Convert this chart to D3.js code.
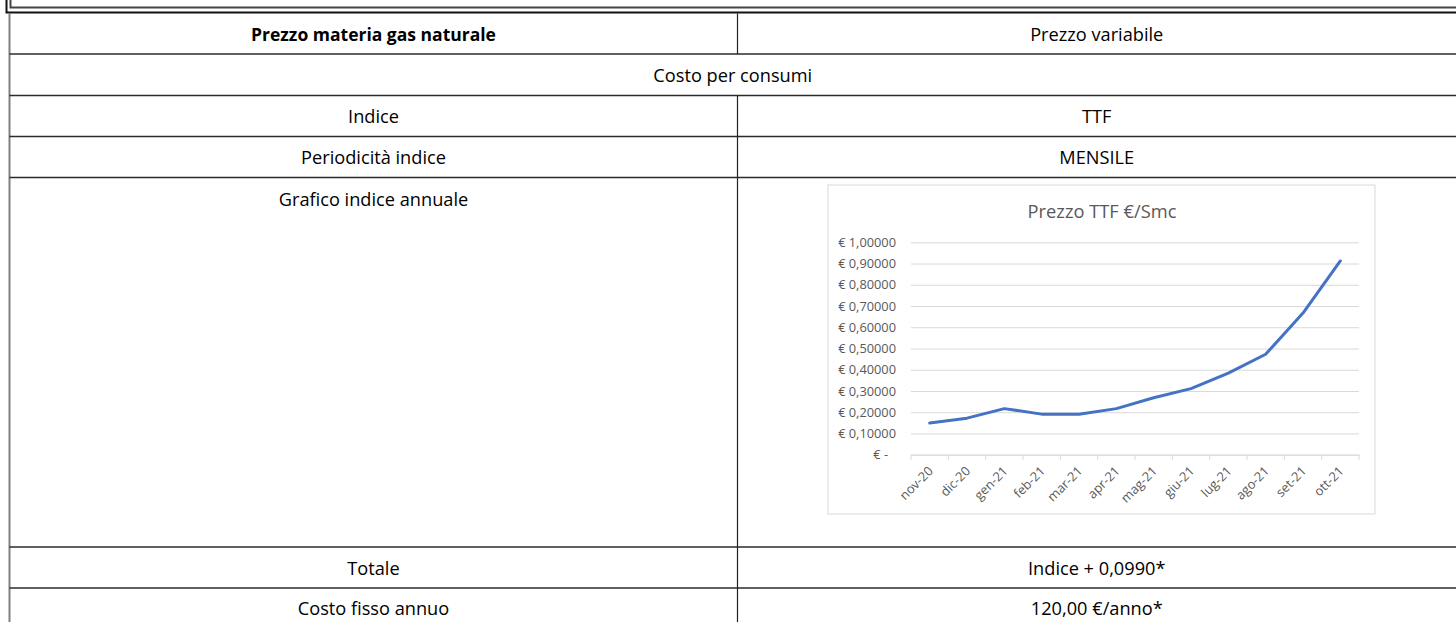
<!DOCTYPE html>
<html>
<head>
<meta charset="utf-8">
<script src="https://cdn.jsdelivr.net/npm/d3@7"></script>
<style>
  body { margin: 0; background: #fff; }
  svg { display: block; }
</style>
</head>
<body>
<script>
// monthly TTF index (€/Smc)
var months = ["nov-20", "dic-20", "gen-21", "feb-21", "mar-21", "apr-21",
              "mag-21", "giu-21", "lug-21", "ago-21", "set-21", "ott-21"];
var prezzoTTF = [0.149, 0.172, 0.217, 0.191, 0.190, 0.217,
                 0.268, 0.311, 0.384, 0.473, 0.667, 0.912];
var yTicks = [0, 0.1, 0.2, 0.3, 0.4, 0.5, 0.6, 0.7, 0.8, 0.9, 1.0];

// table texts
var leftCol = ["Prezzo materia gas naturale", "", "Indice", "Periodicità indice",
               "Grafico indice annuale", "Totale", "Costo fisso annuo"];
var rightCol = ["Prezzo variabile", "", "TTF", "MENSILE", "", "Indice + 0,0990*", "120,00 €/anno*"];
var mergedRow = "Costo per consumi";

var width = 1456, height = 622;
var font = "'Open Sans', 'Noto Sans', sans-serif";

var svg = d3.select("body").append("svg")
  .attr("width", width)
  .attr("height", height);

// double frame at the very top (bottom of a box above)
svg.append("path")
  .attr("d", "M6.5,-5 V12.5 H1460")
  .attr("fill", "none").attr("stroke", "#111").attr("stroke-width", 2);
svg.append("path")
  .attr("d", "M10.5,-5 V7.5 H1460")
  .attr("fill", "none").attr("stroke", "#444").attr("stroke-width", 2);

// table grid
var rowY = [13.5, 54, 95.5, 136.5, 177.5, 547, 588, 640];
var colL = 9.5, colM = 737.5, colR = 1458;

svg.append("line")
  .attr("x1", colL).attr("x2", colL).attr("y1", 13).attr("y2", height)
  .attr("stroke", "#808080").attr("stroke-width", 2);

svg.selectAll(".hrow")
  .data(rowY.slice(1, -1))
  .enter().append("line")
    .attr("x1", colL).attr("x2", colR)
    .attr("y1", function(d) { return d; })
    .attr("y2", function(d) { return d; })
    .attr("stroke", "#2b2b2b").attr("stroke-width", 1.6);

// vertical divider, skipping the merged row
svg.append("line")
  .attr("x1", colM).attr("x2", colM).attr("y1", rowY[0]).attr("y2", rowY[1])
  .attr("stroke", "#222").attr("stroke-width", 1.2);
svg.append("line")
  .attr("x1", colM).attr("x2", colM).attr("y1", rowY[2]).attr("y2", height)
  .attr("stroke", "#222").attr("stroke-width", 1.2);

function cellText(x, y, txt, bold) {
  svg.append("text")
    .attr("x", x).attr("y", y)
    .attr("text-anchor", "middle")
    .attr("dominant-baseline", "central")
    .style("font-family", font)
    .style("font-size", bold ? "17.5px" : "18.2px")
    .style("font-weight", bold ? "bold" : "normal")
    .style("fill", "#000")
    .text(txt);
}

leftCol.forEach(function(t, i) {
  if (!t) return;
  var cy = i === 4 ? rowY[i] + 21 : (rowY[i] + rowY[i + 1]) / 2;
  if (i === 6) cy = rowY[i] + 20;
  cellText((colL + colM) / 2, cy, t, i === 0);
});
rightCol.forEach(function(t, i) {
  if (!t) return;
  var cy = (rowY[i] + rowY[i + 1]) / 2;
  if (i === 6) cy = rowY[i] + 20;
  cellText((colM + 1456) / 2, cy, t, false);
});
cellText((colL + 1456) / 2, (rowY[1] + rowY[2]) / 2, mergedRow, false);

// ---- chart ----
var box = { x: 828, y: 185, w: 547, h: 329 };
svg.append("rect")
  .attr("x", box.x).attr("y", box.y)
  .attr("width", box.w).attr("height", box.h)
  .attr("fill", "#fff").attr("stroke", "#d9d9d9").attr("stroke-width", 1);

svg.append("text")
  .attr("x", 1102).attr("y", 210)
  .attr("text-anchor", "middle")
  .attr("dominant-baseline", "central")
  .style("font-family", font)
  .style("font-size", "18.3px")
  .style("fill", "#595959")
  .text("Prezzo TTF €/Smc");

var x = d3.scaleBand().domain(months).range([911, 1359]);
var y = d3.scaleLinear().domain([0, 1]).range([454.7, 242.3]);

var yAxis = d3.axisLeft(y)
  .tickValues(yTicks)
  .tickSize(-(x.range()[1] - x.range()[0]))
  .tickPadding(15)
  .tickFormat(function(d) {
    return d === 0 ? "€ -" : "€ " + d3.format(".5f")(d).replace(".", ",");
  });

var gy = svg.append("g")
  .attr("transform", "translate(" + x.range()[0] + ",0)")
  .call(yAxis);
gy.select(".domain").remove();
gy.selectAll(".tick line").attr("stroke", "#d9d9d9").attr("stroke-width", 1);
gy.selectAll(".tick text")
  .style("font-family", font)
  .style("font-size", "12.8px")
  .style("fill", "#595959")
  .attr("dx", function(d) { return d === 0 ? -8 : 0; });

// x axis: baseline, boundary ticks, rotated labels
var xAxis = d3.axisBottom(x).tickSize(0);
var gx = svg.append("g")
  .attr("transform", "translate(0," + y(0) + ")")
  .call(xAxis);
gx.select(".domain").attr("stroke", "#d9d9d9");
gx.selectAll(".tick text")
  .attr("x", 0).attr("y", 0).attr("dy", "0.35em")
  .attr("transform", "translate(1,14) rotate(-45)")
  .style("text-anchor", "end")
  .style("font-family", font)
  .style("font-size", "12.8px")
  .style("fill", "#595959");

var bounds = months.map(function(m) { return x(m); }).concat([x.range()[1]]);
gx.selectAll(".btick")
  .data(bounds)
  .enter().append("line")
    .attr("x1", function(d) { return d; })
    .attr("x2", function(d) { return d; })
    .attr("y1", 0).attr("y2", 5)
    .attr("stroke", "#d9d9d9");

var line = d3.line()
  .x(function(d, i) { return x(months[i]) + x.bandwidth() / 2; })
  .y(function(d) { return y(d); });

svg.append("path")
  .datum(prezzoTTF)
  .attr("d", line)
  .attr("fill", "none")
  .attr("stroke", "#4472C4")
  .attr("stroke-width", 3)
  .attr("stroke-linejoin", "round")
  .attr("stroke-linecap", "round");
</script>
</body>
</html>
